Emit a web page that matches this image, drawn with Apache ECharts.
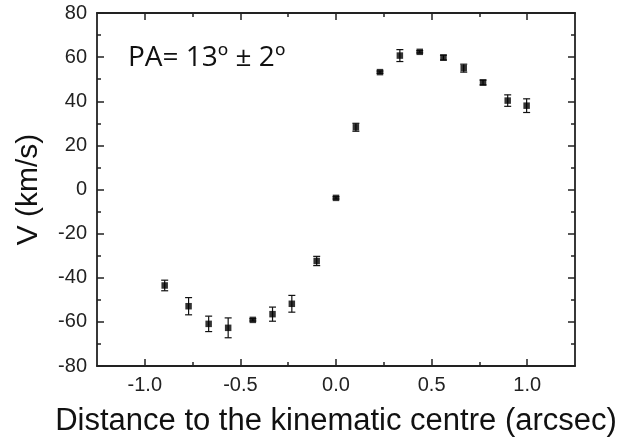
<!DOCTYPE html>
<html>
<head>
<meta charset="utf-8">
<script src="https://cdn.jsdelivr.net/npm/echarts@6/dist/echarts.min.js"></script>
<style>html,body{margin:0;padding:0;background:#fff}#c{width:631px;height:439px}</style>
</head>
<body>
<div id="c"></div>
<script>
const distance = [-0.896, -0.771, -0.666, -0.564, -0.435, -0.332, -0.231, -0.101, 0.0, 0.104, 0.230, 0.334, 0.438, 0.562, 0.668, 0.769, 0.898, 0.997];
const velocity = [-43.5, -52.9, -60.9, -62.7, -59.1, -56.5, -51.8, -32.4, -3.8, 28.2, 53.2, 60.7, 62.4, 59.8, 55.0, 48.5, 40.3, 38.0];
const verror   = [2.4, 3.9, 3.5, 4.5, 0.5, 3.2, 3.8, 2.1, 0.5, 1.8, 0.5, 2.7, 0.5, 1.1, 1.8, 1.1, 2.6, 3.1];
const xMajor = [-1.0, -0.5, 0.0, 0.5, 1.0];
const xMinor = [-0.75, -0.25, 0.25, 0.75];

const chart = echarts.init(document.getElementById('c'));
const axisColor = '#222';
const font = 'Liberation Sans, Arial, sans-serif';

function xAx(pos, values, len, showLine, showLabel, extra) {
  return Object.assign({
    type: 'value', position: pos, min: -1.25, max: 1.25, interval: 0.25,
    axisLine: {show: showLine, onZero: false, lineStyle: {color: axisColor, width: 1.8}},
    axisTick: {show: true, inside: true, length: len, customValues: values, lineStyle: {color: axisColor, width: 1.5}},
    axisLabel: showLabel ? {show: true, customValues: values, formatter: v => Number(v).toFixed(1), color: '#222', fontSize: 20, fontFamily: font, margin: 9} : {show: false},
    splitLine: {show: false}
  }, extra || {});
}

const option = {
  animation: false,
  grid: {left: 97, right: 56, top: 13, bottom: 73, containLabel: false, outerBoundsMode: 'none'},
  xAxis: [
    xAx('bottom', xMajor, 7, true, true, {
      name: 'Distance to the kinematic centre (arcsec)', nameLocation: 'middle', nameGap: 40,
      nameTextStyle: {fontSize: 31, fontFamily: font, color: '#111'}
    }),
    xAx('bottom', xMinor, 4, false, false),
    xAx('top', xMajor, 7, true, false),
    xAx('top', xMinor, 4, false, false)
  ],
  yAxis: [
    {
      type: 'value', position: 'left', min: -80, max: 80, interval: 20,
      name: 'V (km/s)', nameLocation: 'middle', nameGap: 53,
      nameTextStyle: {fontSize: 30, fontFamily: font, color: '#111'},
      axisLine: {show: true, onZero: false, lineStyle: {color: axisColor, width: 1.8}},
      axisTick: {show: true, inside: true, length: 7, lineStyle: {color: axisColor, width: 1.5}},
      minorTick: {show: true, splitNumber: 2, length: 4, lineStyle: {color: axisColor, width: 1.5}},
      axisLabel: {color: '#222', fontSize: 20, fontFamily: font, margin: 10},
      splitLine: {show: false}, minorSplitLine: {show: false}
    },
    {
      type: 'value', position: 'right', min: -80, max: 80, interval: 20,
      axisLine: {show: true, onZero: false, lineStyle: {color: axisColor, width: 1.8}},
      axisTick: {show: true, inside: true, length: 7, lineStyle: {color: axisColor, width: 1.5}},
      minorTick: {show: true, splitNumber: 2, length: 4, lineStyle: {color: axisColor, width: 1.5}},
      axisLabel: {show: false},
      splitLine: {show: false}, minorSplitLine: {show: false}
    }
  ],
  graphic: [{
    type: 'text', left: 128, top: 44,
    style: {text: 'PA= 13º ± 2º', fontSize: 28, fontFamily: 'Open Sans, sans-serif', fill: '#111'}
  }],
  series: [
    {
      type: 'custom', xAxisIndex: 0, yAxisIndex: 0,
      data: distance.map((d, i) => [d, velocity[i] - verror[i], velocity[i] + verror[i]]),
      renderItem: function (params, api) {
        const x = api.value(0);
        const pHi = api.coord([x, api.value(2)]);
        const pLo = api.coord([x, api.value(1)]);
        const w = 3.5;
        const st = {stroke: '#111', lineWidth: 1.2};
        return {type: 'group', children: [
          {type: 'line', shape: {x1: pHi[0], y1: pHi[1], x2: pLo[0], y2: pLo[1]}, style: st},
          {type: 'line', shape: {x1: pHi[0] - w, y1: pHi[1], x2: pHi[0] + w, y2: pHi[1]}, style: st},
          {type: 'line', shape: {x1: pLo[0] - w, y1: pLo[1], x2: pLo[0] + w, y2: pLo[1]}, style: st}
        ]};
      },
      z: 2
    },
    {
      type: 'scatter', xAxisIndex: 0, yAxisIndex: 0,
      symbol: 'rect', symbolSize: 6.5,
      itemStyle: {color: '#000'},
      data: distance.map((d, i) => [d, velocity[i]]),
      z: 3
    }
  ]
};
chart.setOption(option);
</script>
</body>
</html>
